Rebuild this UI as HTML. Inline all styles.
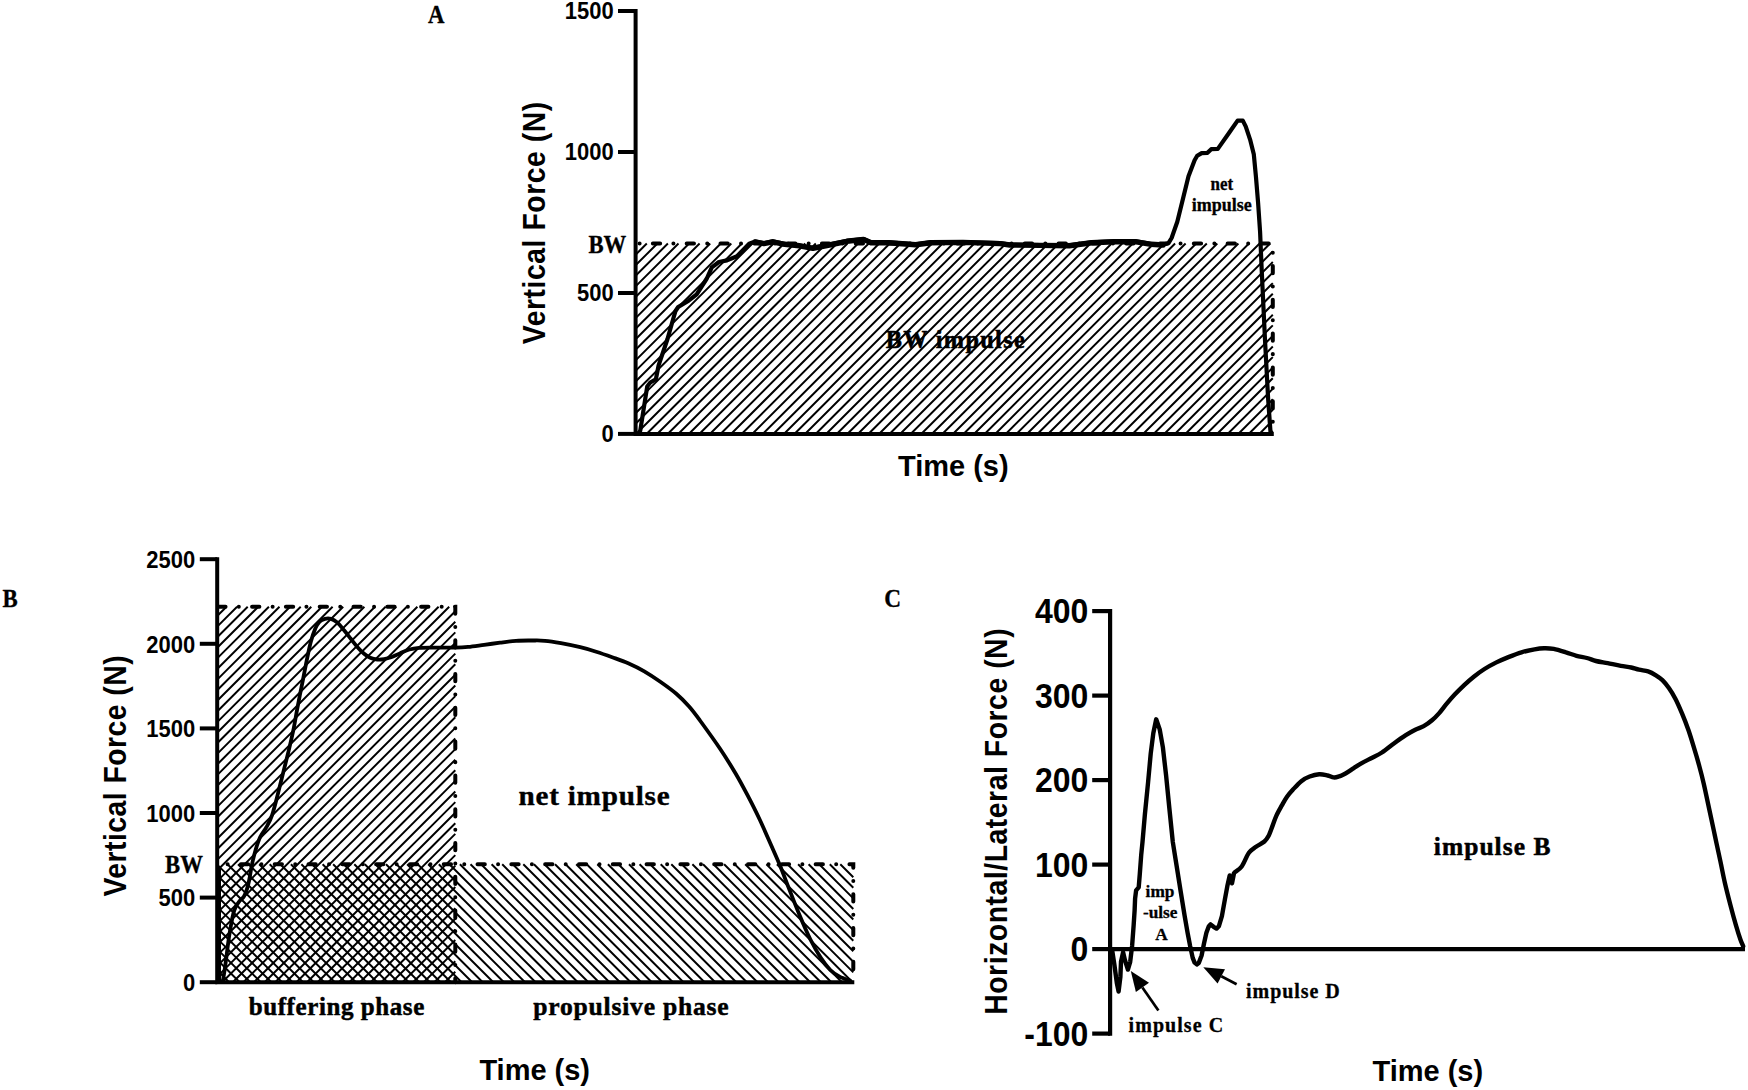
<!DOCTYPE html>
<html lang="en"><head><meta charset="utf-8"><title>Impulse figure</title>
<style>html,body{margin:0;padding:0;background:#fff}svg{display:block}text{fill:#000}</style>
</head><body>
<svg width="1748" height="1090" viewBox="0 0 1748 1090">
<rect width="1748" height="1090" fill="#fff"/>
<g id="panelA">
<path d="M635.6 244.1L636.2 243.5M635.6 254.7L646.8 243.5M635.6 265.3L657.4 243.5M635.6 275.8L667.9 243.5M635.6 286.4L678.5 243.5M635.6 297L689.1 243.5M635.6 307.5L699.6 243.5M635.6 318.1L710.2 243.5M635.6 328.7L720.8 243.5M635.6 339.2L731.3 243.5M635.6 349.8L741.9 243.5M635.6 360.4L752.5 243.5M635.6 370.9L763 243.5M635.6 381.5L773.6 243.5M635.6 392L784.1 243.5M635.6 402.6L794.7 243.5M635.6 413.2L805.3 243.5M635.6 423.7L815.8 243.5M636 434L826.4 243.5M646.5 434L837 243.5M657.1 434L847.5 243.5M667.7 434L858.1 243.5M678.2 434L868.7 243.5M688.8 434L879.2 243.5M699.3 434L889.8 243.5M709.9 434L900.4 243.5M720.5 434L910.9 243.5M731 434L921.5 243.5M741.6 434L932.1 243.5M752.2 434L942.6 243.5M762.7 434L953.2 243.5M773.3 434L963.8 243.5M783.9 434L974.3 243.5M794.4 434L984.9 243.5M805 434L995.5 243.5M815.6 434L1006 243.5M826.1 434L1016.6 243.5M836.7 434L1027.1 243.5M847.3 434L1037.7 243.5M857.8 434L1048.3 243.5M868.4 434L1058.8 243.5M879 434L1069.4 243.5M889.5 434L1080 243.5M900.1 434L1090.5 243.5M910.6 434L1101.1 243.5M921.2 434L1111.7 243.5M931.8 434L1122.2 243.5M942.3 434L1132.8 243.5M952.9 434L1143.4 243.5M963.5 434L1153.9 243.5M974 434L1164.5 243.5M984.6 434L1175.1 243.5M995.2 434L1185.6 243.5M1005.7 434L1196.2 243.5M1016.3 434L1206.8 243.5M1026.9 434L1217.3 243.5M1037.4 434L1227.9 243.5M1048 434L1238.4 243.5M1058.6 434L1249 243.5M1069.1 434L1259.6 243.5M1079.7 434L1270.1 243.5M1090.3 434L1272.8 251.4M1100.8 434L1272.8 262M1111.4 434L1272.8 272.5M1121.9 434L1272.8 283.1M1132.5 434L1272.8 293.7M1143.1 434L1272.8 304.2M1153.6 434L1272.8 314.8M1164.2 434L1272.8 325.4M1174.8 434L1272.8 335.9M1185.3 434L1272.8 346.5M1195.9 434L1272.8 357.1M1206.5 434L1272.8 367.6M1217 434L1272.8 378.2M1227.6 434L1272.8 388.8M1238.2 434L1272.8 399.3M1248.7 434L1272.8 409.9M1259.3 434L1272.8 420.4M1269.9 434L1272.8 431" stroke="#000" stroke-width="1.95" fill="none"/>
<path d="M635.6 243.5H1272.8V433.9" stroke="#000" stroke-width="4.0" stroke-dasharray="7.3 13.25 0.01 13.25" stroke-dashoffset="16.55" stroke-linecap="round" stroke-linejoin="round" fill="none"/>
<path d="M635.6 9V433.9H1273.8" stroke="#000" stroke-width="4.0" fill="none" stroke-linejoin="miter"/>
<path d="M618 433.9H635.6" stroke="#000" stroke-width="4.0"/>
<text transform="translate(613.7 442.1) scale(1 1.075)" font-family='"Liberation Sans", Arial, sans-serif' font-weight="bold" font-size="22" text-anchor="end">0</text>
<path d="M618 293H635.6" stroke="#000" stroke-width="4.0"/>
<text transform="translate(613.7 301.1) scale(1 1.075)" font-family='"Liberation Sans", Arial, sans-serif' font-weight="bold" font-size="22" text-anchor="end">500</text>
<path d="M618 152H635.6" stroke="#000" stroke-width="4.0"/>
<text transform="translate(613.7 160.1) scale(1 1.075)" font-family='"Liberation Sans", Arial, sans-serif' font-weight="bold" font-size="22" text-anchor="end">1000</text>
<path d="M618 11H635.6" stroke="#000" stroke-width="4.0"/>
<text transform="translate(613.7 19.1) scale(1 1.075)" font-family='"Liberation Sans", Arial, sans-serif' font-weight="bold" font-size="22" text-anchor="end">1500</text>
<text transform="translate(626.3 252.6) scale(1 1.126)" font-family='"Liberation Serif", "Times New Roman", serif' font-weight="bold" font-size="22.7" text-anchor="end" stroke="#000" stroke-width="0.3" stroke-linejoin="round">BW</text>
<path d="M640.2 431L643.5 410L647.2 386.5L650.3 382.5L655.9 379.2L658.6 365.3L667.5 339L673.6 317.5L675.5 311L678.2 307L688.6 300.7L696.7 294.3L706.8 278.5L711.8 267.4L718.9 262L727 260.4L737 256.3L749.2 243.8L755.2 241.5L763.8 243.2L772.7 241.4L784.6 243.9L799.5 245.4L812.9 247.9L829.3 244.6L847 240.9L863.5 239L871 242.4L888.8 242.4L915.6 244.3L930.5 242.4L963 242L1000 243.2L1009.8 244.6L1040 245L1069.3 245.4L1091.6 242.4L1113.9 241.4L1136.3 241.4L1151.1 243.9L1163 244.6L1168.5 243.2L1171.6 238L1177.3 221.8L1183.4 196.9L1188.5 176.3L1194.6 160.2L1197.2 155.8L1201.7 153.1L1207.5 152.8L1211.2 149.2L1217.8 148.9L1222.2 142.6L1229.5 132.3L1237.6 120.6L1242.8 120.6L1245.7 126.4L1250.1 139.6L1253.8 154.3L1255.9 176.3L1258.1 202.8L1260.1 232.1L1261.7 270L1265 340L1268.2 400L1270.5 432" stroke="#000" stroke-width="4.2" fill="none" stroke-linejoin="round" stroke-linecap="round"/>
<path d="M755.2 241.9L763.8 243.6L772.7 241.8L784.6 244.3L799.5 245.8L812.9 248.3L829.3 245L847 241.3L863.5 239.4L871 242.8L888.8 242.8L915.6 244.7L930.5 242.8L963 242.4L1000 243.6L1009.8 245L1040 245.4L1069.3 245.8L1091.6 242.8L1113.9 241.8L1136.3 241.8L1151.1 244.3L1163 245" stroke="#000" stroke-width="5.4" fill="none" stroke-linejoin="round" stroke-linecap="round"/>
<text transform="translate(428.1 23.3) scale(1 1.09)" font-family='"Liberation Serif", "Times New Roman", serif' font-weight="bold" font-size="22.8" text-anchor="start" stroke="#000" stroke-width="0.3" stroke-linejoin="round">A</text>
<text x="885.7" y="347.8" font-family='"Liberation Serif", "Times New Roman", serif' font-weight="bold" font-size="24.3" text-anchor="start" stroke="#000" stroke-width="0.5" stroke-linejoin="round" textLength="139" lengthAdjust="spacing">BW impulse</text>
<text transform="translate(1221.8 189.5) scale(1 1.06)" font-family='"Liberation Serif", "Times New Roman", serif' font-weight="bold" font-size="17" text-anchor="middle" stroke="#000" stroke-width="0.3" stroke-linejoin="round">net</text>
<text x="1221.8" y="210.5" font-family='"Liberation Serif", "Times New Roman", serif' font-weight="bold" font-size="18" text-anchor="middle" stroke="#000" stroke-width="0.3" stroke-linejoin="round">impulse</text>
<text transform="translate(953.3 475.6) scale(1 1.03)" font-family='"Liberation Sans", Arial, sans-serif' font-weight="bold" font-size="29" text-anchor="middle">Time (s)</text>
<text transform="translate(544.9 223) rotate(-90) scale(1 1.09)" font-family='"Liberation Sans", Arial, sans-serif' font-weight="bold" font-size="28.3" text-anchor="middle" textLength="242.4" lengthAdjust="spacing">Vertical Force (N)</text>
</g>
<g id="panelB">
<path d="M217.2 616L226.5 606.7M217.2 626.6L237.1 606.7M217.2 637.2L247.7 606.7M217.2 647.8L258.3 606.7M217.2 658.4L268.9 606.7M217.2 669L279.5 606.7M217.2 679.6L290.1 606.7M217.2 690.2L300.7 606.7M217.2 700.8L311.3 606.7M217.2 711.5L322 606.7M217.2 722.1L332.6 606.7M217.2 732.7L343.2 606.7M217.2 743.3L353.8 606.7M217.2 753.9L364.4 606.7M217.2 764.5L375 606.7M217.2 775.1L385.6 606.7M217.2 785.7L396.2 606.7M217.2 796.3L406.8 606.7M217.2 806.9L417.4 606.7M217.2 817.5L428 606.7M217.2 828.1L438.6 606.7M217.2 838.7L449.2 606.7M217.2 849.3L455.3 611.2M217.2 859.9L455.3 621.8M217.2 870.5L455.3 632.4M217.2 881.1L455.3 643M217.2 891.7L455.3 653.6M217.2 902.3L455.3 664.2M217.2 912.9L455.3 674.8M217.2 923.6L455.3 685.5M217.2 934.2L455.3 696.1M217.2 944.8L455.3 706.7M217.2 955.4L455.3 717.3M217.2 966L455.3 727.9M217.2 976.6L455.3 738.5M222.2 982.2L455.3 749.1M232.8 982.2L455.3 759.7M243.4 982.2L455.3 770.3M254 982.2L455.3 780.9M264.6 982.2L455.3 791.5M275.2 982.2L455.3 802.1M285.8 982.2L455.3 812.7M296.4 982.2L455.3 823.3M307 982.2L455.3 833.9M317.6 982.2L455.3 844.5M328.2 982.2L455.3 855.1M338.8 982.2L455.3 865.7M349.4 982.2L455.3 876.3M360 982.2L455.3 887M370.7 982.2L455.3 897.6M381.3 982.2L455.3 908.2M391.9 982.2L455.3 918.8M402.5 982.2L455.3 929.4M413.1 982.2L455.3 940M423.7 982.2L455.3 950.6M434.3 982.2L455.3 961.2M444.9 982.2L455.3 971.8" stroke="#000" stroke-width="1.95" fill="none"/>
<path d="M217.2 980.8L218.6 982.2M217.2 970.3L229.1 982.2M217.2 959.7L239.7 982.2M217.2 949.1L250.3 982.2M217.2 938.6L260.8 982.2M217.2 928L271.4 982.2M217.2 917.4L282 982.2M217.2 906.9L292.5 982.2M217.2 896.3L303.1 982.2M217.2 885.7L313.7 982.2M217.2 875.2L324.2 982.2M217.2 864.6L334.8 982.2M227.5 864.3L345.4 982.2M238 864.3L355.9 982.2M248.6 864.3L366.5 982.2M259.2 864.3L377.1 982.2M269.7 864.3L387.6 982.2M280.3 864.3L398.2 982.2M290.9 864.3L408.8 982.2M301.4 864.3L419.3 982.2M312 864.3L429.9 982.2M322.6 864.3L440.5 982.2M333.1 864.3L451 982.2M343.7 864.3L461.6 982.2M354.3 864.3L472.2 982.2M364.8 864.3L482.7 982.2M375.4 864.3L493.3 982.2M386 864.3L503.9 982.2M396.5 864.3L514.4 982.2M407.1 864.3L525 982.2M417.7 864.3L535.6 982.2M428.2 864.3L546.1 982.2M438.8 864.3L556.7 982.2M449.4 864.3L567.3 982.2M459.9 864.3L577.8 982.2M470.5 864.3L588.4 982.2M481.1 864.3L599 982.2M491.6 864.3L609.5 982.2M502.2 864.3L620.1 982.2M512.8 864.3L630.7 982.2M523.3 864.3L641.2 982.2M533.9 864.3L651.8 982.2M544.5 864.3L662.4 982.2M555 864.3L672.9 982.2M565.6 864.3L683.5 982.2M576.2 864.3L694.1 982.2M586.7 864.3L704.6 982.2M597.3 864.3L715.2 982.2M607.9 864.3L725.8 982.2M618.4 864.3L736.3 982.2M629 864.3L746.9 982.2M639.6 864.3L757.5 982.2M650.1 864.3L768 982.2M660.7 864.3L778.6 982.2M671.3 864.3L789.2 982.2M681.8 864.3L799.7 982.2M692.4 864.3L810.3 982.2M703 864.3L820.9 982.2M713.5 864.3L831.4 982.2M724.1 864.3L842 982.2M734.7 864.3L852.6 982.2M745.2 864.3L853.3 972.4M755.8 864.3L853.3 961.8M766.4 864.3L853.3 951.2M776.9 864.3L853.3 940.7M787.5 864.3L853.3 930.1M798.1 864.3L853.3 919.5M808.6 864.3L853.3 909M819.2 864.3L853.3 898.4M829.8 864.3L853.3 887.8M840.3 864.3L853.3 877.3M850.9 864.3L853.3 866.7" stroke="#000" stroke-width="1.95" fill="none"/>
<path d="M217.2 606.7H455.3V982.2" stroke-dashoffset="32.75" stroke="#000" stroke-width="4.0" stroke-dasharray="7.3 13.25 0.01 13.25" stroke-linecap="round" fill="none"/>
<path d="M217.2 864.3H853.3V982.2" stroke-dashoffset="10.15" stroke="#000" stroke-width="4.0" stroke-dasharray="7.3 13.25 0.01 13.25" stroke-linecap="round" fill="none"/>
<path d="M217.2 557.2V982.2H854.3" stroke="#000" stroke-width="4.0" fill="none"/>
<path d="M199.8 982.2H217.2" stroke="#000" stroke-width="4.0"/>
<text transform="translate(195.2 990.9) scale(1 1.075)" font-family='"Liberation Sans", Arial, sans-serif' font-weight="bold" font-size="22" text-anchor="end">0</text>
<path d="M199.8 897.6H217.2" stroke="#000" stroke-width="4.0"/>
<text transform="translate(195.2 906.3) scale(1 1.075)" font-family='"Liberation Sans", Arial, sans-serif' font-weight="bold" font-size="22" text-anchor="end">500</text>
<path d="M199.8 813H217.2" stroke="#000" stroke-width="4.0"/>
<text transform="translate(195.2 821.7) scale(1 1.075)" font-family='"Liberation Sans", Arial, sans-serif' font-weight="bold" font-size="22" text-anchor="end">1000</text>
<path d="M199.8 728.4H217.2" stroke="#000" stroke-width="4.0"/>
<text transform="translate(195.2 737.1) scale(1 1.075)" font-family='"Liberation Sans", Arial, sans-serif' font-weight="bold" font-size="22" text-anchor="end">1500</text>
<path d="M199.8 643.8H217.2" stroke="#000" stroke-width="4.0"/>
<text transform="translate(195.2 652.5) scale(1 1.075)" font-family='"Liberation Sans", Arial, sans-serif' font-weight="bold" font-size="22" text-anchor="end">2000</text>
<path d="M199.8 559.2H217.2" stroke="#000" stroke-width="4.0"/>
<text transform="translate(195.2 567.9) scale(1 1.075)" font-family='"Liberation Sans", Arial, sans-serif' font-weight="bold" font-size="22" text-anchor="end">2500</text>
<text transform="translate(202.9 872.8) scale(1 1.126)" font-family='"Liberation Serif", "Times New Roman", serif' font-weight="bold" font-size="22.7" text-anchor="end" stroke="#000" stroke-width="0.3" stroke-linejoin="round">BW</text>
<path d="M222.7 981.5C222.8 981.1 222.8 981.5 223.2 979C223.6 976.5 224.5 971.2 225.1 966.7C225.7 962.2 226.4 957.1 227 952.3C227.6 947.5 228.2 942.6 228.9 937.8C229.6 933 230.6 927.4 231.3 923.4C232 919.4 232.6 916.4 233.3 913.7C234 911 234.7 909.1 235.7 907C236.7 904.9 238.1 903 239.5 901.2C240.9 899.4 242.7 898.3 243.9 896.4C245.1 894.5 245.9 892.3 246.8 889.6C247.7 886.9 248.3 884.2 249.2 880C250.1 875.8 250.9 869.4 252 864.3C253.1 859.2 254.3 854.2 255.7 849.6C257.1 845 258.5 840.6 260.3 836.8C262.1 833 264.7 830.4 266.7 826.7C268.7 823 270.4 820.1 272.2 814.8C274 809.4 275.9 801.6 277.7 794.6C279.5 787.6 281.4 779.9 283.2 772.6C285 765.3 287 757.6 288.7 750.6C290.4 743.6 291.9 737.1 293.3 730.4C294.7 723.7 295.9 716.1 297 710.2C298.1 704.3 298.9 700.2 299.9 695C300.9 689.8 301.9 685.1 303.1 679.1C304.3 673.1 305.7 665.4 307 659.1C308.3 652.9 309.5 646.7 310.9 641.6C312.3 636.5 313.9 631.8 315.3 628.5C316.8 625.2 318 623.2 319.6 621.6C321.2 620 323 619.4 324.9 618.9C326.8 618.4 329 618.3 331 618.9C333 619.5 334.9 620.5 337.1 622.4C339.3 624.3 341.8 627.5 344.1 630.3C346.4 633.1 348.7 636.1 351 639C353.3 641.9 355.8 645.2 358 647.7C360.2 650.2 362.1 652.1 364.1 653.8C366.1 655.5 368 656.8 370.2 657.7C372.4 658.7 374.9 659.3 377.2 659.5C379.5 659.7 381.9 659.5 384.2 659.1C386.5 658.7 388.5 658.2 391.1 657.3C393.7 656.3 396.8 654.7 399.9 653.4C402.9 652.1 406.2 650.4 409.4 649.5C412.6 648.6 415.6 648.2 419 647.9C422.4 647.6 424 647.6 430 647.6C436 647.6 448.8 647.7 455.2 647.6C461.6 647.5 463.3 647.4 468.1 646.9C472.9 646.4 478.8 645.5 484.1 644.8C489.4 644.1 494.8 643.4 500.1 642.7C505.4 642 510.8 641.2 516.1 640.8C521.4 640.4 527.3 640.5 532.1 640.5C536.9 640.5 540.1 640.3 544.9 640.8C549.7 641.2 555.1 642.1 561 643.2C566.9 644.3 574.3 645.8 580.2 647.2C586.1 648.6 590.9 650 596.2 651.7C601.5 653.4 606.9 655.3 612.2 657.2C617.5 659.1 622.9 660.9 628.2 663.2C633.6 665.6 638.9 668.2 644.3 671.3C649.6 674.4 655 678 660.3 681.7C665.6 685.4 671.5 689.6 676.3 693.7C681.1 697.8 685.1 702 689.1 706.5C693.1 711 694.9 713.5 700 720.5C705.1 727.5 713.9 739.6 719.9 748.5C725.9 757.4 731 765.7 735.9 774C740.8 782.3 745.2 790.8 749.2 798.4C753.2 806 756.2 812.2 759.8 819.7C763.3 827.2 767.2 836.2 770.5 843.7C773.8 851.2 776.7 857.5 779.8 865C782.9 872.5 785.8 880.5 789.1 888.9C792.4 897.3 796.2 907.1 799.7 915.5C803.2 923.9 806.9 932.4 810.4 939.5C813.9 946.6 817.7 953 821 958.1C824.3 963.2 827.2 966.9 830.3 970C833.4 973.1 836.3 974.9 839.6 976.7C842.9 978.5 848.5 980 850.3 980.7" stroke="#000" stroke-width="3.8" fill="none" stroke-linejoin="round" stroke-linecap="round"/>
<path d="M219.4 866V980.5L222.7 981.5" stroke="#000" stroke-width="3.2" fill="none" stroke-linejoin="round"/>
<text transform="translate(2.5 607.2) scale(1 1.09)" font-family='"Liberation Serif", "Times New Roman", serif' font-weight="bold" font-size="22.8" text-anchor="start" stroke="#000" stroke-width="0.3" stroke-linejoin="round">B</text>
<text transform="translate(518.4 804.8) scale(1 0.932)" font-family='"Liberation Serif", "Times New Roman", serif' font-weight="bold" font-size="29.2" text-anchor="start" stroke="#000" stroke-width="0.4" stroke-linejoin="round" textLength="151.3" lengthAdjust="spacing">net impulse</text>
<text x="248.7" y="1015.4" font-family='"Liberation Serif", "Times New Roman", serif' font-weight="bold" font-size="25" text-anchor="start" stroke="#000" stroke-width="0.5" stroke-linejoin="round" textLength="175.6" lengthAdjust="spacing">buffering phase</text>
<text transform="translate(533.2 1015.4) scale(1 0.98)" font-family='"Liberation Serif", "Times New Roman", serif' font-weight="bold" font-size="25.6" text-anchor="start" stroke="#000" stroke-width="0.5" stroke-linejoin="round" textLength="195.5" lengthAdjust="spacing">propulsive phase</text>
<text transform="translate(534.7 1080.3) scale(1 1.03)" font-family='"Liberation Sans", Arial, sans-serif' font-weight="bold" font-size="29" text-anchor="middle">Time (s)</text>
<text transform="translate(126.2 776) rotate(-90) scale(1 1.09)" font-family='"Liberation Sans", Arial, sans-serif' font-weight="bold" font-size="28.3" text-anchor="middle" textLength="241.2" lengthAdjust="spacing">Vertical Force (N)</text>
</g>
<g id="panelC">
<path d="M1110.1 609V1035.7" stroke="#000" stroke-width="4.2" fill="none"/>
<path d="M1110.1 949.1H1745" stroke="#000" stroke-width="4.2" fill="none"/>
<path d="M1092.2 1033.6H1110.1" stroke="#000" stroke-width="4.2"/>
<text transform="translate(1088.3 1045.9) scale(1 1.07)" font-family='"Liberation Sans", Arial, sans-serif' font-weight="bold" font-size="32" text-anchor="end">-100</text>
<path d="M1092.2 949.1H1110.1" stroke="#000" stroke-width="4.2"/>
<text transform="translate(1088.3 961.4) scale(1 1.07)" font-family='"Liberation Sans", Arial, sans-serif' font-weight="bold" font-size="32" text-anchor="end">0</text>
<path d="M1092.2 864.6H1110.1" stroke="#000" stroke-width="4.2"/>
<text transform="translate(1088.3 876.9) scale(1 1.07)" font-family='"Liberation Sans", Arial, sans-serif' font-weight="bold" font-size="32" text-anchor="end">100</text>
<path d="M1092.2 780.1H1110.1" stroke="#000" stroke-width="4.2"/>
<text transform="translate(1088.3 792.4) scale(1 1.07)" font-family='"Liberation Sans", Arial, sans-serif' font-weight="bold" font-size="32" text-anchor="end">200</text>
<path d="M1092.2 695.6H1110.1" stroke="#000" stroke-width="4.2"/>
<text transform="translate(1088.3 707.9) scale(1 1.07)" font-family='"Liberation Sans", Arial, sans-serif' font-weight="bold" font-size="32" text-anchor="end">300</text>
<path d="M1092.2 611.1H1110.1" stroke="#000" stroke-width="4.2"/>
<text transform="translate(1088.3 623.4) scale(1 1.07)" font-family='"Liberation Sans", Arial, sans-serif' font-weight="bold" font-size="32" text-anchor="end">400</text>
<path d="M1112.3 951L1114.4 964.8L1116.8 982.7L1118.6 991.6L1120.4 976.7L1121 961.8L1123.1 952.3L1124.9 960L1127.9 969.6L1130.2 961.8L1132.1 945.9L1133.6 925.8L1134.6 910.6L1135.1 898.5L1136.1 890.4L1138.7 887.4L1139.7 875.3L1141.2 855.1L1142.5 842L1144.9 814.2L1148.1 782.1L1150.7 753.8L1153.3 733.3L1156.2 719.3L1159.7 729.4L1162.9 747.4L1166.1 775.6L1169.3 807.7L1172.8 842L1176.5 865.2L1180.5 890.4L1184.6 915.7L1187.6 932.8L1190.1 945.9L1192.7 957.9L1194.6 962.6L1196.8 964.4L1198.8 962.9L1201.6 955.5L1204 943.5L1206.4 932.8L1208.8 926.2L1210.6 924.4L1213.6 926.8L1216.5 928.6L1218.9 926.2L1221.9 916.1L1224.9 899.4L1227.3 886.3L1229.7 875.5L1232 883.3L1233.8 874.3C1233.9 874 1233.2 873.8 1234.5 872.5C1235.8 871.2 1239.3 869.8 1241.7 866.5C1244.1 863.2 1246.5 856.1 1248.9 852.8C1251.3 849.5 1253.4 848.7 1256 846.8C1258.6 844.9 1262.3 843.3 1264.4 841.5C1266.5 839.7 1267.1 838.8 1268.5 836.1C1269.9 833.4 1271.4 828.8 1272.7 825.4C1274 822 1274.8 819.1 1276.3 815.8C1277.8 812.5 1279.9 808.9 1281.7 805.7C1283.5 802.5 1285.1 799.4 1287 796.7C1288.9 794 1290.6 792.2 1293 789.6C1295.4 787 1298.5 783.4 1301.3 781.2C1304.1 779 1306.7 777.6 1309.7 776.5C1312.7 775.4 1316.2 774.5 1319.2 774.3C1322.2 774.1 1325.2 775 1327.6 775.5C1330 776 1331.7 777.2 1333.5 777.4C1335.3 777.6 1336.3 777.4 1338.3 776.7C1340.3 776.1 1342.9 774.9 1345.5 773.5C1348.1 772.1 1351 769.9 1353.8 768.1C1356.6 766.3 1359.2 764.5 1362.2 762.8C1365.2 761.1 1368.4 759.7 1371.7 758C1375 756.3 1378.2 754.9 1381.9 752.5C1385.6 750.1 1389.9 746.4 1393.9 743.5C1397.9 740.6 1402.2 737.5 1405.8 735.2C1409.4 732.9 1412.3 731.3 1415.3 729.8C1418.3 728.3 1420.9 727.8 1423.7 726.2C1426.5 724.6 1429.4 722.5 1432 720.3C1434.6 718.1 1436.8 715.8 1439.2 713.1C1441.6 710.4 1443.7 707.3 1446.3 704.2C1448.9 701.1 1451.7 697.8 1454.7 694.6C1457.7 691.4 1461 688.1 1464.2 685.1C1467.4 682.1 1470.4 679.4 1473.8 676.7C1477.2 674 1480.7 671.4 1484.5 669C1488.3 666.6 1492.4 664.4 1496.4 662.4C1500.4 660.4 1504.2 658.8 1508.4 657.1C1512.6 655.4 1517.1 653.6 1521.5 652.3C1525.9 651 1530.8 650 1534.6 649.3C1538.4 648.6 1540.9 648.3 1544.1 648.2C1547.3 648.1 1550 648.2 1553.7 648.9C1557.4 649.6 1562.2 651.2 1566 652.4C1569.8 653.5 1573 654.9 1576.5 655.8C1580 656.7 1583.7 657.1 1586.9 658C1590.2 658.9 1592.5 660.1 1596 661C1599.5 661.9 1603.6 662.4 1607.7 663.2C1611.8 664 1616.9 665.1 1620.8 665.8C1624.7 666.5 1628.2 666.9 1631.2 667.5C1634.2 668.1 1636.2 669.1 1639 669.7C1641.8 670.4 1645.3 670.5 1648.1 671.4C1650.9 672.3 1653.5 673.8 1655.9 675.3C1658.3 676.8 1660.2 678 1662.4 680.1C1664.6 682.2 1666.7 684.9 1668.9 688C1671.1 691.1 1673.3 694.8 1675.5 699C1677.7 703.2 1679.8 708.2 1682 713.4C1684.2 718.6 1686.3 724 1688.5 730.3C1690.7 736.6 1693.2 745.3 1695 751.1C1696.8 756.9 1697.5 759.5 1699 765C1700.5 770.5 1702.1 776.5 1703.8 783.9C1705.5 791.3 1707.5 801 1709.3 809.5C1711.1 818 1713 826.6 1714.8 835.2C1716.6 843.8 1718.6 853 1720.3 860.9C1722 868.8 1723.2 875.5 1724.9 882.9C1726.6 890.2 1728.6 898 1730.4 905C1732.2 912 1734.2 919.3 1735.9 925.1C1737.6 930.9 1739.3 936.3 1740.5 939.8C1741.7 943.3 1742.8 945.1 1743.2 946.2" stroke="#000" stroke-width="4.4" fill="none" stroke-linejoin="round" stroke-linecap="round"/>
<path d="M1130.8 970.9L1149 982.7L1135.9 991.9Z" fill="#000"/>
<path d="M1142.4 987.4L1158.4 1010.6" stroke="#000" stroke-width="2.7"/>
<path d="M1203.3 967.3L1225 969.2L1217.6 983.5Z" fill="#000"/>
<path d="M1221.3 976.3L1236.6 984.2" stroke="#000" stroke-width="2.7"/>
<text transform="translate(884.2 606.9) scale(1 1.07)" font-family='"Liberation Serif", "Times New Roman", serif' font-weight="bold" font-size="23.3" text-anchor="start" stroke="#000" stroke-width="0.3" stroke-linejoin="round">C</text>
<text x="1160" y="897.4" font-family='"Liberation Serif", "Times New Roman", serif' font-weight="bold" font-size="17.3" text-anchor="middle" stroke="#000" stroke-width="0.3" stroke-linejoin="round">imp</text>
<text x="1160.2" y="918.4" font-family='"Liberation Serif", "Times New Roman", serif' font-weight="bold" font-size="17.3" text-anchor="middle" stroke="#000" stroke-width="0.3" stroke-linejoin="round">-ulse</text>
<text x="1161.5" y="940.1" font-family='"Liberation Serif", "Times New Roman", serif' font-weight="bold" font-size="17.3" text-anchor="middle" stroke="#000" stroke-width="0.3" stroke-linejoin="round">A</text>
<text x="1433.8" y="855.3" font-family='"Liberation Serif", "Times New Roman", serif' font-weight="bold" font-size="25.5" text-anchor="start" stroke="#000" stroke-width="0.5" stroke-linejoin="round" textLength="116.6" lengthAdjust="spacing">impulse B</text>
<text x="1128.6" y="1031.9" font-family='"Liberation Serif", "Times New Roman", serif' font-weight="bold" font-size="20" text-anchor="start" stroke="#000" stroke-width="0.3" stroke-linejoin="round" textLength="94.5" lengthAdjust="spacing">impulse C</text>
<text x="1246" y="998.3" font-family='"Liberation Serif", "Times New Roman", serif' font-weight="bold" font-size="20" text-anchor="start" stroke="#000" stroke-width="0.3" stroke-linejoin="round" textLength="93.8" lengthAdjust="spacing">impulse D</text>
<text transform="translate(1427.8 1080.8) scale(1 1.03)" font-family='"Liberation Sans", Arial, sans-serif' font-weight="bold" font-size="29" text-anchor="middle">Time (s)</text>
<text transform="translate(1007 821.6) rotate(-90) scale(1 1.09)" font-family='"Liberation Sans", Arial, sans-serif' font-weight="bold" font-size="28.4" text-anchor="middle" textLength="386.4" lengthAdjust="spacing">Horizontal/Lateral Force (N)</text>
</g>
</svg>
</body></html>
